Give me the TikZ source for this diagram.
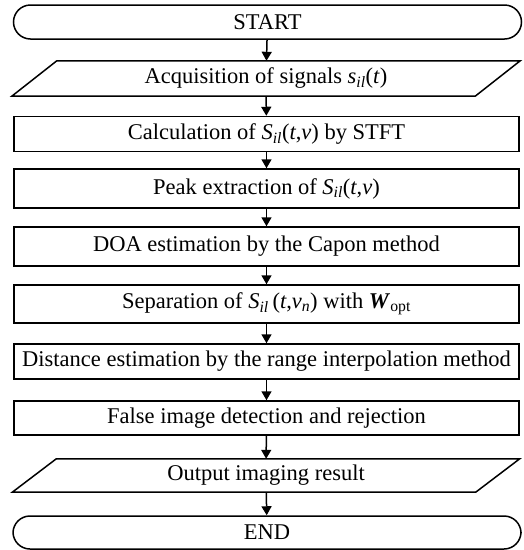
\documentclass[tikz,border=0pt]{standalone}
\usepackage{fontspec}
\setmainfont{Liberation Serif}
\usetikzlibrary{arrows.meta}

\begin{document}
\begin{tikzpicture}[x=1pt, y=-1pt,
            every node/.style={font=\fontsize{22.5}{27}\selectfont, inner sep=0pt},
            box/.style={draw, line width=1.5pt, minimum width=505pt, minimum height=35pt},
            term/.style={box, rounded corners=17pt, minimum width=508pt, minimum height=34pt},
            io/.style={minimum width=463pt, minimum height=35pt},
            arr/.style={line width=1.5pt, -{Triangle[length=9pt,width=10pt]}}]
            \useasboundingbox (0,0) rectangle (524,550);
            \node [term] (start) at (267.5,22) {START};
            \node [io] (acq) at (266,78.5) {Acquisition of signals \textit{s}\textsubscript{\textit{il}}(\textit{t})};
            \node [box] (stft) at (266.5,134) {Calculation of \textit{S}\textsubscript{\textit{il}}(\textit{t},\textit{v}) by STFT};
            \node [box, minimum height=39pt] (peak) at (266.5,188.5) {Peak extraction of \textit{S}\textsubscript{\textit{il}}(\textit{t},\textit{v})};
            \node [box, minimum height=39pt] (doa) at (266.5,246.5) {DOA estimation by the Capon method};
            \node [box, minimum height=38pt] (sep) at (266.5,304) {Separation of \textit{S}\textsubscript{\textit{il}}\,(\textit{t},\textit{v}\textsubscript{\textit{n}}) with \textbf{\textit{W}}\textsubscript{opt}};
            \node [box] (dist) at (266.5,361.5) {Distance estimation by the range interpolation method};
            \node [box, minimum height=34pt] (false) at (266.5,418) {False image detection and rejection};
            \node [io, minimum height=33pt] (out) at (266,475.5) {Output imaging result};
            \node [term, minimum height=33pt] (end) at (267,532.5) {END};
            \draw [line width=1.5pt] ([xshift=22.5pt]acq.north west) -- ([xshift=22.5pt]acq.north east) -- ([xshift=-22.5pt]acq.south east) -- ([xshift=-22.5pt]acq.south west) -- cycle;
            \draw [line width=1.5pt] ([xshift=22pt]out.north west) -- ([xshift=22pt]out.north east) -- ([xshift=-22pt]out.south east) -- ([xshift=-22pt]out.south west) -- cycle;
            \draw [arr] (start) -- (acq);
            \draw [arr] (acq) -- (stft);
            \draw [arr] (stft) -- (peak);
            \draw [arr] (peak) -- (doa);
            \draw [arr] (doa) -- (sep);
            \draw [arr] (sep) -- (dist);
            \draw [arr] (dist) -- (false);
            \draw [arr] (false) -- (out);
            \draw [arr] (out) -- (end);
        \end{tikzpicture}
\end{document}
